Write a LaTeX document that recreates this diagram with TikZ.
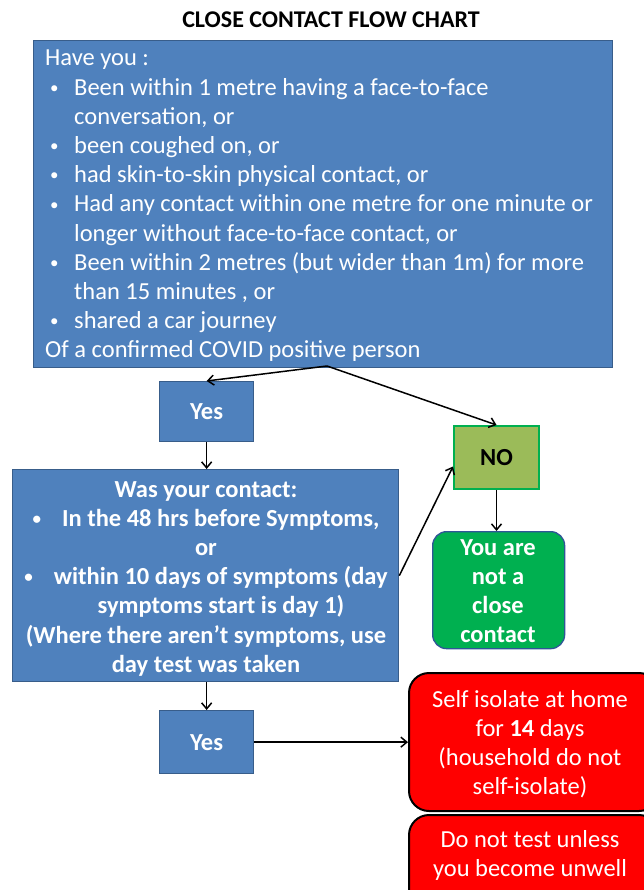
\documentclass[tikz,border=0pt]{standalone}
\usepackage{fontspec}
\setmainfont{Carlito}
\usetikzlibrary{arrows.meta,calc}
\definecolor{qblue}{HTML}{4F81BD}
\definecolor{qbluedark}{HTML}{385D8A}
\definecolor{noolive}{HTML}{9BBB59}
\definecolor{vgreen}{HTML}{00B050}
\definecolor{gborder}{HTML}{2F5597}
\newcommand\smbul{\raisebox{1.8pt}{\fontsize{17}{17}\selectfont\textbullet}}
\newcommand\bl{\makebox[29pt][l]{\hspace{5pt}\smbul}}
\newcommand\ind{\hspace*{29pt}}
\begin{document}
\begin{tikzpicture}[x=1pt,y=-1pt,
  bluebox/.style={draw=qbluedark,fill=qblue,line width=1.3pt,inner sep=0pt},
  txt/.style={text=white,inner sep=0pt,font=\fontsize{24.5}{29.2}\selectfont},
  btxt/.style={text=white,inner sep=0pt,font=\fontsize{24.5}{29.2}\selectfont\bfseries},
  conn/.style={line width=1.5pt,-{Straight Barb[length=6pt,width=10pt,line width=1.5pt]}}
]
\useasboundingbox (0,0) rectangle (643,890);
\fill[white] (0,0) rectangle (643,890);
% title
\node[font=\fontsize{24}{28}\selectfont\bfseries,inner sep=0pt] (title) at (331,20) {CLOSE CONTACT FLOW CHART};
% question 1
\node[bluebox,anchor=north west,minimum width=579pt,minimum height=327pt] (q1) at (33,40) {};
\node[txt,anchor=north west,align=left] (q1t) at (45,50) {Have you :\\
\bl Been within 1 metre having a face-to-face\\
\ind conversation, or\\
\bl been coughed on, or\\
\bl had skin-to-skin physical contact, or\\
\bl Had any contact within one metre for one minute or\\
\ind longer without face-to-face contact, or\\
\bl Been within 2 metres (but wider than 1m) for more\\
\ind than 15 minutes , or\\
\bl shared a car journey\\
Of a confirmed COVID positive person};
\coordinate (split) at (327,366);
% yes 1
\node[bluebox,anchor=north west,minimum width=94pt,minimum height=60pt,font=\fontsize{24.5}{28}\selectfont\bfseries,text=white] (yes1) at (159,381) {Yes};
% NO
\node[draw=vgreen,fill=noolive,line width=2pt,anchor=north west,minimum width=85pt,minimum height=63pt,font=\fontsize{24.5}{28}\selectfont\bfseries] (no) at (453,425) {NO};
% question 2
\node[bluebox,anchor=north west,minimum width=386pt,minimum height=212pt] (q2) at (12,469) {};
\node[btxt,anchor=north,align=center] (q2t) at (206,481) {Was your contact:\\
\smbul\hspace{21pt}In the 48 hrs before Symptoms,\\
or\\
\smbul\hspace{21pt}within 10 days of symptoms (day\\
\hspace{30pt}symptoms start is day 1)\\
(Where there aren’t symptoms, use\\
day test was taken};
% green
\node[draw=gborder,fill=vgreen,line width=1.3pt,rounded corners=14pt,anchor=north west,minimum width=132pt,minimum height=117pt] (nc) at (432,531) {};
\node[btxt,anchor=north,align=center] (nct) at (498,539) {You are\\not a\\close\\contact};
% yes 2
\node[bluebox,anchor=north west,minimum width=94pt,minimum height=63pt,font=\fontsize{24.5}{28}\selectfont\bfseries,text=white] (yes2) at (159,710) {Yes};
% red boxes
\node[draw=black,fill=red,line width=2pt,rounded corners=20pt,anchor=north west,minimum width=250pt,minimum height=138pt] (iso) at (408,672) {};
\node[txt,anchor=north,align=center] (isot) at (530,690) {Self isolate at home\\for \textbf{14} days\\(household do not\\self-isolate)};
\node[draw=black,fill=red,line width=2pt,rounded corners=20pt,anchor=north west,minimum width=250pt,minimum height=100pt] (test) at (408,814) {};
\node[txt,anchor=north,align=center] (testt) at (530,830) {Do not test unless\\you become unwell};
% connectors
\draw[conn] (split) -- (yes1.north);
\draw[conn] (split) -- (no.north);
\draw[conn] (yes1.south) -- (q2.north -| yes1.south);
\draw[conn] (q2.east) -- ([yshift=-9pt]no.west);
\draw[conn] (no.south) -- (nc.north -| no.south);
\draw[conn] (q2.south -| yes2.north) -- (yes2.north);
\draw[conn] (yes2.east) -- (iso.west |- yes2.east);
\end{tikzpicture}
\end{document}
